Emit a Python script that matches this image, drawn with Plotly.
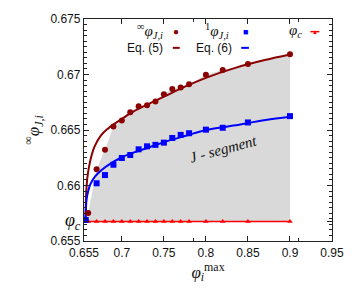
import plotly.graph_objects as go

# ---------------- data ----------------
phi_c = 0.65675

inf_x = [0.66, 0.67, 0.68, 0.69, 0.70, 0.71, 0.72, 0.73, 0.74, 0.75, 0.76, 0.77, 0.78, 0.80, 0.82, 0.85, 0.90]
inf_y = [0.65752, 0.66147, 0.66322, 0.66532, 0.66585, 0.66661, 0.66713, 0.66722, 0.66757, 0.66822,
         0.66870, 0.66883, 0.66912, 0.66997, 0.67041, 0.67094, 0.67182]

one_x = [0.657, 0.67, 0.68, 0.69, 0.70, 0.71, 0.72, 0.73, 0.74, 0.75, 0.76, 0.77, 0.78, 0.80, 0.82, 0.85, 0.90]
one_y = [0.65690, 0.66020, 0.66094, 0.66187, 0.66248, 0.66275, 0.66326, 0.66353, 0.66366, 0.66386,
         0.66428, 0.66456, 0.66471, 0.66503, 0.66520, 0.66568, 0.66625]

c_x = [0.6565, 0.66, 0.67, 0.68, 0.69, 0.70, 0.71, 0.72, 0.73, 0.74, 0.75, 0.76, 0.77, 0.78, 0.80, 0.82, 0.85, 0.90]

eq5_x = [0.65675, 0.6572, 0.6578, 0.6590, 0.6610, 0.6640, 0.6675, 0.6750, 0.6830, 0.6900, 0.7000,
         0.7100, 0.7250, 0.7500, 0.7750, 0.8000, 0.8350, 0.8700, 0.9000]
eq5_y = [0.65675, 0.6585, 0.6596, 0.6607, 0.6617, 0.6627, 0.6635, 0.6645, 0.6651, 0.6655, 0.6660,
         0.6665, 0.6671, 0.6680, 0.6689, 0.6697, 0.6706, 0.6713, 0.6718]

eq6_x = [0.65675, 0.6572, 0.6580, 0.6600, 0.6625, 0.6680, 0.6760, 0.6870, 0.6990, 0.7080, 0.7310,
         0.7540, 0.7770, 0.8000, 0.8330, 0.8710, 0.9000]
eq6_y = [0.65675, 0.6578, 0.6587, 0.6595, 0.6601, 0.6608, 0.6614, 0.6620, 0.6625, 0.6628, 0.6634,
         0.6640, 0.6645, 0.6650, 0.6654, 0.6659, 0.6662]

x_ticks = [0.655, 0.70, 0.75, 0.80, 0.85, 0.90, 0.95]
x_ticklabels = ["0.655", "0.7", "0.75", "0.8", "0.85", "0.9", "0.95"]
x_minor = [0.7857, 0.9107]
y_ticks = [0.655, 0.66, 0.665, 0.67, 0.675]
y_ticklabels = ["0.655", "0.66", "0.665", "0.67", "0.675"]

DARKRED = "#8b0000"
BLUE = "#0000ff"
RED = "#ff0000"
GRAY = "#d9d9d9"
SERIF = "Liberation Serif"
SANS = "Liberation Sans"

fig = go.Figure()

# gray J-segment region (upper boundary = infinite-limit data, lower = phi_c)
fig.add_trace(go.Scatter(
    x=[one_x[0]] + inf_x + [inf_x[-1]],
    y=[phi_c] + inf_y + [phi_c],
    fill="toself", fillcolor=GRAY, mode="none", hoverinfo="skip", showlegend=False))

fig.add_trace(go.Scatter(x=c_x, y=[phi_c] * len(c_x), mode="lines+markers",
                         line=dict(color=RED, width=1.5),
                         marker=dict(symbol="triangle-up", size=5, color=RED), showlegend=False))
fig.add_trace(go.Scatter(x=eq5_x, y=eq5_y, mode="lines", line=dict(color=DARKRED, width=2, shape="spline"),
                         showlegend=False))
fig.add_trace(go.Scatter(x=eq6_x, y=eq6_y, mode="lines", line=dict(color=BLUE, width=2, shape="spline"),
                         showlegend=False))
fig.add_trace(go.Scatter(x=inf_x, y=inf_y, mode="markers",
                         marker=dict(symbol="circle", size=6, color=DARKRED), showlegend=False))
fig.add_trace(go.Scatter(x=one_x, y=one_y, mode="markers",
                         marker=dict(symbol="square", size=6, color=BLUE), showlegend=False))

axis_common = dict(showgrid=False, zeroline=False, showline=True, linecolor="#222", linewidth=1.3,
                   mirror="ticks", ticks="inside", tickcolor="#222", tickwidth=1,
                   tickfont=dict(family=SANS, size=12, color="#111"))

fig.update_xaxes(range=[0.655, 0.95], tickmode="array", tickvals=x_ticks, ticktext=x_ticklabels,
                 ticklen=5,
                 minor=dict(tickmode="array", tickvals=x_minor, ticklen=3, ticks="inside", tickcolor="#222"),
                 title=dict(text="<i>φ</i><sub><i>i</i></sub><sup>max</sup>",
                            font=dict(family=SERIF, size=17, color="#111"), standoff=4),
                 **axis_common)

phic_label = "<span style='font-family:Liberation Serif;font-size:18px'><i>φ</i><sub><i>c</i></sub></span>"
fig.update_yaxes(range=[0.655, 0.675], tickmode="array", tickvals=y_ticks + [phi_c],
                 ticktext=y_ticklabels + [phic_label], ticklen=5,
                 minor=dict(tickmode="linear", tick0=0.655, dtick=0.0005, ticklen=3, ticks="inside",
                            tickcolor="#222"),
                 title=dict(text="<sup>∞</sup><i>φ</i><sub><i>J,i</i></sub>",
                            font=dict(family=SERIF, size=17, color="#111"), standoff=6),
                 **axis_common)

annotations = []
def txt(x, y, text, anchor="right", size=12, family=SANS, color="#111"):
    annotations.append(dict(x=x, y=y, xref="paper", yref="paper", text=text, showarrow=False,
                            xanchor=anchor, yanchor="middle", font=dict(family=family, size=size, color=color)))

# legend (gnuplot-style: label then key)
txt(0.327, 0.945, "<sup>∞</sup><i>φ</i><sub><i>J,i</i></sub>", family=SERIF, size=15)
txt(0.371, 0.943, "●", anchor="center", size=10, color=DARKRED)
txt(0.591, 0.945, "<sup>1</sup><i>φ</i><sub><i>J,i</i></sub>", family=SERIF, size=15)
txt(0.650, 0.943, "■", anchor="center", size=9, color=BLUE)
txt(0.886, 0.945, "<i>φ</i><sub><i>c</i></sub>", family=SERIF, size=15)
txt(0.931, 0.943, "▲", anchor="center", size=6, color=RED)
txt(0.327, 0.870, "Eq. (5)")
txt(0.606, 0.870, "Eq. (6)")
# J-segment label
annotations.append(dict(x=0.821, y=0.66325, xref="x", yref="y", text="<i>J - segment</i>", showarrow=False,
                        textangle=-15, font=dict(family=SERIF, size=15, color="#111")))

shapes = [
    dict(type="line", xref="paper", yref="paper", x0=0.358, x1=0.386, y0=0.870, y1=0.870,
         line=dict(color=DARKRED, width=2)),
    dict(type="line", xref="paper", yref="paper", x0=0.634, x1=0.665, y0=0.870, y1=0.870,
         line=dict(color=BLUE, width=2)),
    dict(type="line", xref="paper", yref="paper", x0=0.913, x1=0.949, y0=0.943, y1=0.943,
         line=dict(color=RED, width=1.5)),
]

fig.update_layout(width=356, height=291, margin=dict(l=84, r=18, t=14, b=50),
                  paper_bgcolor="white", plot_bgcolor="white", annotations=annotations, shapes=shapes,
                  showlegend=False)

fig.write_html("out.html", config={"displayModeBar": False},
               post_script="document.body.style.margin='0';document.body.style.overflow='hidden';")
